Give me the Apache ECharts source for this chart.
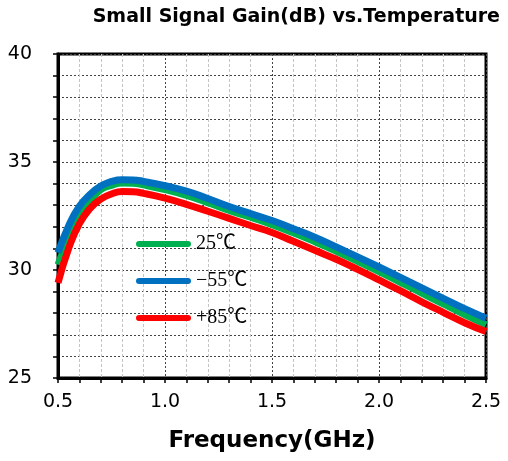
<!DOCTYPE html>
<html>
<head>
<meta charset="utf-8">
<script src="https://cdn.jsdelivr.net/npm/echarts@6/dist/echarts.min.js"></script>
<style>html,body{margin:0;padding:0;background:#fff}#c{width:508px;height:461px}</style>
</head>
<body>
<div id="c"></div>
<script>
const titleText = 'Small Signal Gain(dB) vs.Temperature';
const xName = 'Frequency(GHz)';
const seriesNames = ['25\u2103', '\u221255\u2103', '+85\u2103'];
const freq = [0.5,0.55,0.6,0.65,0.7,0.75,0.8,0.85,0.9,1.0,1.1,1.2,1.3,1.4,1.5,1.6,1.7,1.8,1.9,2.0,2.1,2.2,2.3,2.4,2.5];
const gain25 = [30.25,31.5,32.6,33.22,33.72,33.92,34.03,34.02,33.94,33.72,33.45,33.12,32.76,32.44,32.1,31.72,31.31,30.87,30.4,29.93,29.43,28.93,28.43,27.94,27.47];
const gainM55 = [30.8,32.05,32.95,33.5,33.89,34.1,34.18,34.17,34.1,33.9,33.65,33.31,32.94,32.61,32.29,31.91,31.52,31.07,30.61,30.14,29.66,29.17,28.69,28.21,27.77];
const gainP85 = [29.4,31.0,32.15,32.85,33.28,33.52,33.63,33.62,33.55,33.33,33.04,32.72,32.39,32.06,31.74,31.33,30.91,30.5,30.03,29.54,29.04,28.53,28.04,27.56,27.15];
const colors = ['#00b050', '#0070c0', '#ff0000'];

const pairs = arr => freq.map((f, i) => [f, arr[i]]);
const sans = 'DejaVu Sans';
const chart = echarts.init(document.getElementById('c'));
const pill = 'path://M3,0 L52,0 A3,3 0 0 1 52,6 L3,6 A3,3 0 0 1 3,0 Z';
chart.setOption({
  animation: false,
  backgroundColor: '#fff',
  title: {
    text: titleText, right: 3, top: 3,
    textStyle: {fontFamily: sans, fontWeight: 'bold', fontSize: 19, color: '#000'}
  },
  legend: {
    orient: 'vertical', left: 131, top: 229, itemWidth: 55, itemHeight: 6, itemGap: 17,
    data: seriesNames.map(n => ({name: n, icon: pill})),
    textStyle: {fontFamily: "'Liberation Serif', 'Noto Sans CJK JP', serif", fontSize: 20, color: '#000'}
  },
  grid: {
    left: 58, right: 22, top: 54, bottom: 83, show: true,
    borderColor: '#000', borderWidth: 3, backgroundColor: 'transparent'
  },
  xAxis: {
    type: 'value', min: 0.5, max: 2.5, interval: 0.5,
    name: xName, nameLocation: 'middle', nameGap: 52,
    nameTextStyle: {fontFamily: sans, fontWeight: 'bold', fontSize: 23, color: '#000'},
    axisLine: {show: true, lineStyle: {color: '#000', width: 3}},
    axisTick: {show: true, length: 5, lineStyle: {color: '#000', width: 1.5}},
    minorTick: {show: true, splitNumber: 5, length: 5, lineStyle: {color: '#000', width: 1.5}},
    axisLabel: {fontFamily: sans, fontSize: 19, color: '#000', margin: 15, formatter: v => v.toFixed(1)},
    splitLine: {show: true, lineStyle: {color: '#444', type: [2, 2], width: 1}},
    minorSplitLine: {show: true, lineStyle: {color: '#c4c4c4', type: [3, 2], width: 1}}
  },
  yAxis: {
    type: 'value', min: 25, max: 40, interval: 5,
    axisLine: {show: true, lineStyle: {color: '#000', width: 3}},
    axisTick: {show: true, length: 5, lineStyle: {color: '#000', width: 1.5}},
    minorTick: {show: true, splitNumber: 5, length: 5, lineStyle: {color: '#000', width: 1.5}},
    axisLabel: {fontFamily: sans, fontSize: 19, color: '#000', margin: 26},
    splitLine: {show: true, lineStyle: {color: '#444', type: [2, 2], width: 1}},
    minorSplitLine: {show: true, lineStyle: {color: '#444', type: [2, 2], width: 1}}
  },
  series: [
    {name: seriesNames[0], type: 'line', data: pairs(gain25), smooth: 0.5, symbol: 'none',
     itemStyle: {color: colors[0]}, lineStyle: {color: colors[0], width: 7}},
    {name: seriesNames[1], type: 'line', data: pairs(gainM55), smooth: 0.5, symbol: 'none',
     itemStyle: {color: colors[1]}, lineStyle: {color: colors[1], width: 7}},
    {name: seriesNames[2], type: 'line', data: pairs(gainP85), smooth: 0.5, symbol: 'none',
     itemStyle: {color: colors[2]}, lineStyle: {color: colors[2], width: 7}}
  ]
});
</script>
</body>
</html>
